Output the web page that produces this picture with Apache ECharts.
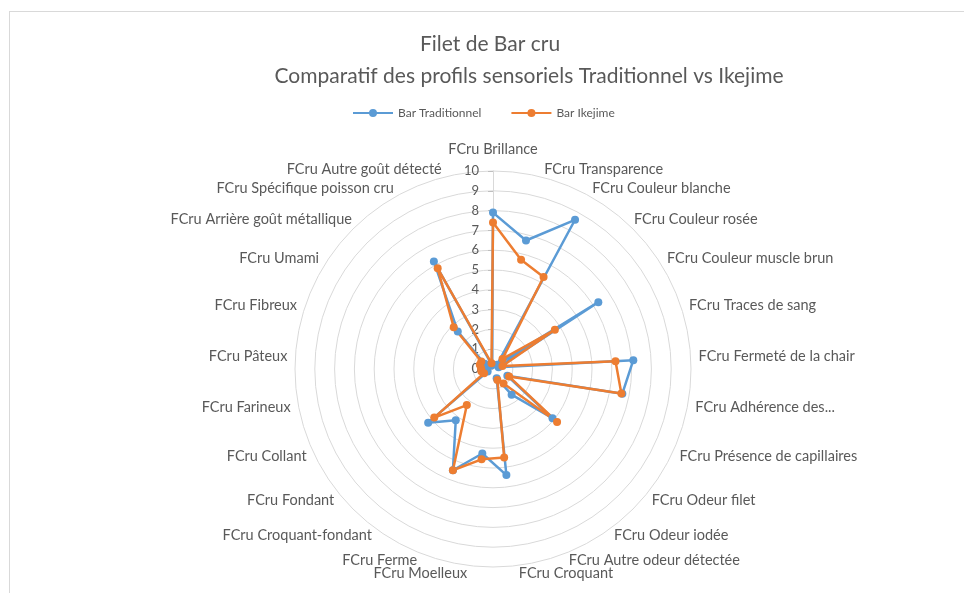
<!DOCTYPE html>
<html>
<head>
<meta charset="utf-8">
<script src="https://cdn.jsdelivr.net/npm/echarts@6/dist/echarts.min.js"></script>
<style>
html,body{margin:0;padding:0;background:#fff;overflow:hidden;}
#chart{position:absolute;left:0;top:0;width:964px;height:593px;}
#frame{position:absolute;left:9px;top:11px;width:960px;height:600px;border-top:1px solid #d9d9d9;border-left:1px solid #d9d9d9;pointer-events:none;}
</style>
</head>
<body>
<div id="chart"></div>
<div id="frame"></div>
<script>
// ---- Data (clockwise from top) ----
const categories = [
  'FCru Brillance',
  'FCru Transparence',
  'FCru Couleur blanche',
  'FCru Couleur rosée',
  'FCru Couleur muscle brun',
  'FCru Traces de sang',
  'FCru Fermeté de la chair',
  'FCru Adhérence des...',
  'FCru Présence de capillaires',
  'FCru Odeur filet',
  'FCru Odeur iodée',
  'FCru Autre odeur détectée',
  'FCru Croquant',
  'FCru Moelleux',
  'FCru Ferme',
  'FCru Croquant-fondant',
  'FCru Fondant',
  'FCru Collant',
  'FCru Farineux',
  'FCru Pâteux',
  'FCru Fibreux',
  'FCru Umami',
  'FCru Arrière goût métallique',
  'FCru Spécifique poisson cru',
  'FCru Autre goût détecté'
];
const barTraditionnel = [7.9, 6.7, 8.6, 0.3, 6.3, 0.3, 7.1, 6.65, 0.8, 3.9, 1.6, 0.5, 5.4, 4.3, 5.5, 3.2, 4.25, 0.3, 0.3, 0.3, 0.3, 0.5, 2.6, 6.2, 0.2];
const barIkejime     = [7.4, 5.7, 5.3, 0.7, 3.7, 0.5, 6.2, 6.6, 0.9, 4.2, 0.9, 0.6, 4.5, 4.6, 5.5, 2.25, 3.85, 0.5, 0.6, 0.6, 0.7, 0.7, 2.9, 5.8, 0.3];
const tickLabels = ['0','1','2','3','4','5','6','7','8','9','10'];
const seriesNames = ['Bar Traditionnel', 'Bar Ikejime'];
const titleText = 'Filet de Bar cru';
const subtitleText = 'Comparatif des profils sensoriels Traditionnel vs Ikejime';

// ECharts radar lays indicators counter-clockwise; reorder to get clockwise layout.
const order = [0];
for (let i = categories.length - 1; i >= 1; i--) order.push(i);
const reorder = arr => order.map(i => arr[i]);

const FONT = 'Lato, "Open Sans", sans-serif';
const GREY = '#595959';
const BLUE = '#5B9BD5';
const ORANGE = '#ED7D31';
const legendIcon = 'path://M0,2.9 H40 V5.1 H0 Z M16,4 A4,4 0 1 1 24,4 A4,4 0 1 1 16,4 Z';

const indicators = order.map((i, k) => {
  const ind = { name: categories[i], min: 0, max: 10 };
  if (k === 0) {
    ind.nameGap = 14;
    ind.axisLabel = {
      show: true, inside: true, margin: 14, color: GREY, fontSize: 13, fontFamily: FONT,
      formatter: v => tickLabels[Math.round(v)]
    };
    ind.axisLine = { show: true, lineStyle: { color: '#d9d9d9', width: 1 } };
    ind.axisTick = { show: true, inside: true, length: 5, lineStyle: { color: '#bfbfbf' } };
  }
  return ind;
});

const chart = echarts.init(document.getElementById('chart'), null, { renderer: 'canvas' });
chart.setOption({
  backgroundColor: 'transparent',
  animation: false,
  graphic: [
    { type: 'text', style: { text: titleText, fill: GREY, font: '21px ' + FONT, x: 490, y: 44, align: 'center', verticalAlign: 'middle' } },
    { type: 'text', style: { text: subtitleText, fill: GREY, font: '21px ' + FONT, x: 529, y: 76, align: 'center', verticalAlign: 'middle' } }
  ],
  legend: {
    data: seriesNames,
    left: 348,
    top: 102,
    itemWidth: 40,
    itemHeight: 8,
    itemGap: 30,
    icon: legendIcon,
    textStyle: { color: GREY, fontSize: 12, fontFamily: FONT }
  },
  radar: {
    center: [493, 369],
    radius: 198,
    startAngle: 90,
    splitNumber: 10,
    shape: 'circle',
    nameGap: 8,
    axisName: { color: GREY, fontSize: 14.5, fontFamily: FONT },
    splitLine: { lineStyle: { color: '#d9d9d9', width: 1 } },
    splitArea: { show: false },
    axisLine: { show: false },
    axisTick: { show: false },
    axisLabel: { show: false },
    indicator: indicators
  },
  series: [{
    type: 'radar',
    symbol: 'circle',
    symbolSize: 8,
    data: [
      { name: seriesNames[0], value: reorder(barTraditionnel),
        lineStyle: { color: BLUE, width: 2.5 }, itemStyle: { color: BLUE } },
      { name: seriesNames[1], value: reorder(barIkejime),
        lineStyle: { color: ORANGE, width: 2.5 }, itemStyle: { color: ORANGE } }
    ]
  }]
});
</script>
</body>
</html>
